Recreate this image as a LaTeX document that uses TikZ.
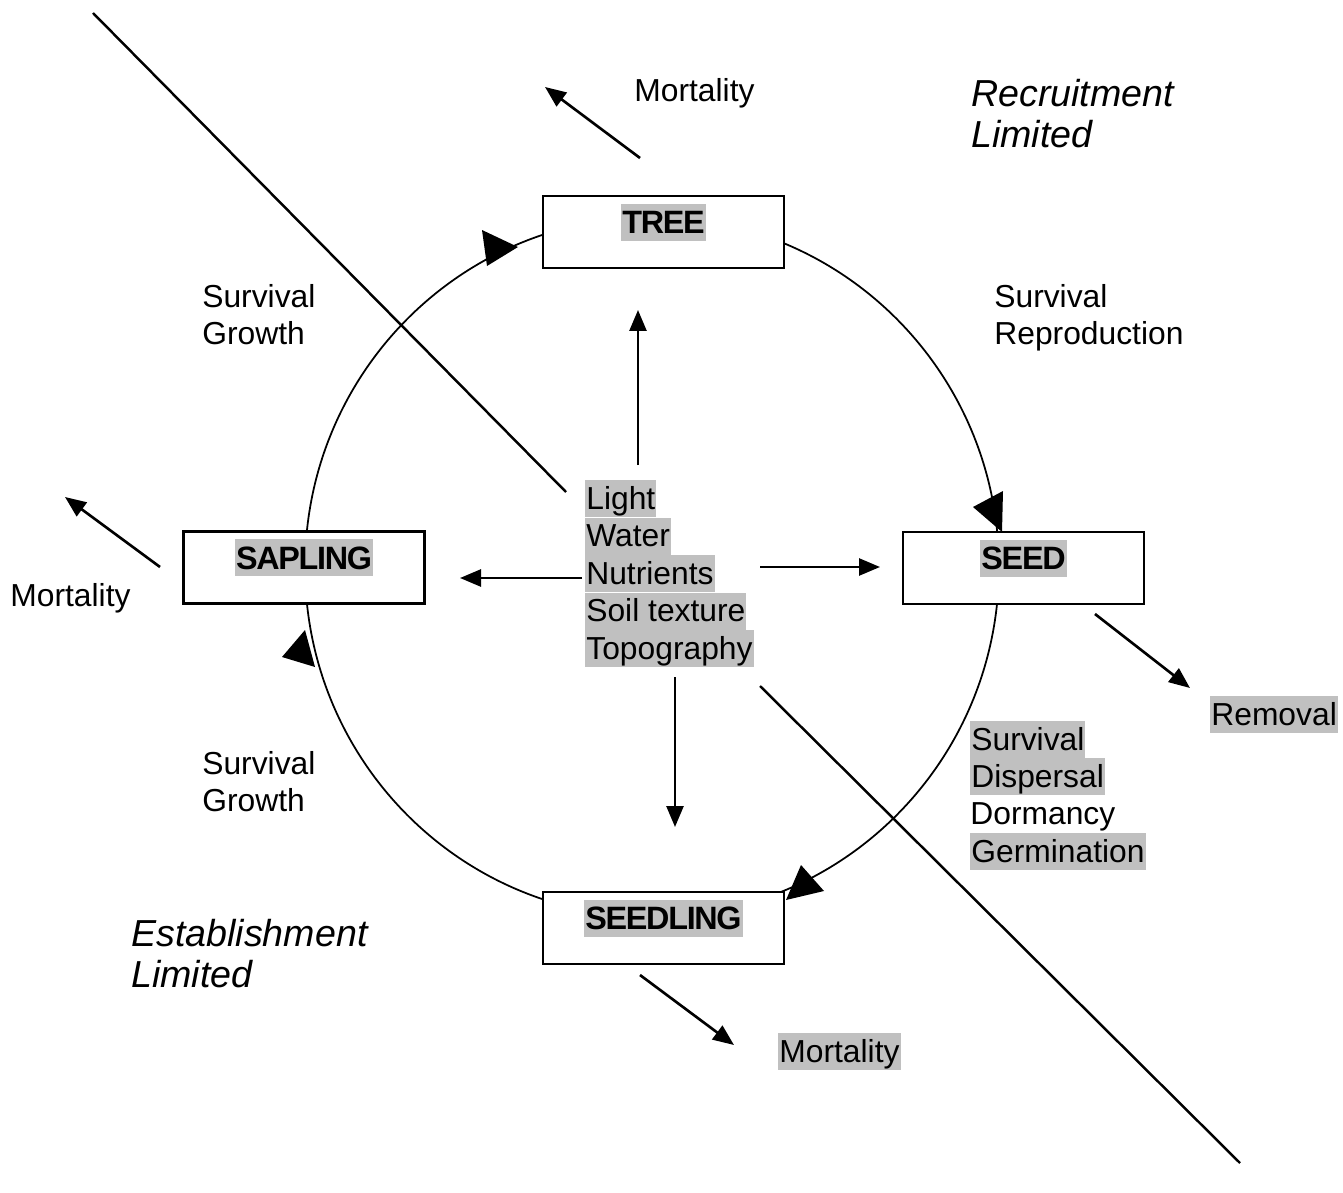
\documentclass[tikz,border=0pt]{standalone}
\usepackage{fontspec}
\setmainfont{Liberation Sans}
\newfontfamily\condbold[LetterSpace=-4]{Liberation Sans}
\usetikzlibrary{arrows.meta,calc}
\definecolor{hl}{RGB}{192,192,192}
\begin{document}
\begin{tikzpicture}[x=0.02cm,y=-0.02cm,
  txt/.style={inner sep=0pt, anchor=base west, font=\fontsize{18.1}{21}\selectfont},
  hltxt/.style={txt, fill=hl, inner xsep=0.02cm, text height=0.58cm, text depth=0.16cm},
  ital/.style={inner sep=0pt, anchor=base west, font=\fontsize{21.4}{24}\selectfont\itshape},
  stagebox/.style={draw, line width=1.3pt, fill=white, minimum width=4.82cm, minimum height=1.44cm, inner sep=0pt},
  stagelbl/.style={fill=hl, inner xsep=0.02cm, inner ysep=0pt, text height=0.6cm, text depth=0.14cm, anchor=base, font=\condbold\bfseries\fontsize{18.4}{21}\selectfont},
  arr/.style={line width=1.5pt, -{Triangle[length=0.42cm,width=0.34cm]}},
  diag/.style={line width=1.4pt},
  cyc/.style={line width=1pt}
]
\useasboundingbox (0,0) rectangle (1343,1193);

% diagonal lines
\coordinate (d1a) at (93,13);
\coordinate (d1b) at (566,492);
\coordinate (d2a) at (760,686);
\coordinate (d2b) at (1240,1163);
\draw[diag] (d1a) -- (d1b);
\draw[diag] (d2a) -- (d2b);

% life cycle
\draw[cyc] (652,567) ellipse [x radius=6.94cm, y radius=7cm];

% stage boxes
\node[stagebox] (tree) at (663.5,232) {};
\node[stagebox] (seed) at (1023.5,568) {};
\node[stagebox] (sapling) at (304,567.5) {};
\node[stagebox] (seedling) at (663.5,928) {};
\node[stagelbl] (treel) at ($(tree.north)+(0,39)$) {TREE};
\node[stagelbl] (seedl) at ($(seed.north)+(0,39)$) {SEED};
\node[stagelbl] (saplingl) at ($(sapling.north)+(0,39)$) {SAPLING};
\node[stagelbl] (seedlingl) at ($(seedling.north)+(0,39)$) {SEEDLING};

% arrowheads on the cycle
\fill (482,230) -- (487,266) -- (518,247) -- cycle;
\fill (973,507) -- (1003,491) -- (1002,532) -- cycle;
\fill (801,865) -- (824,891) -- (786,900) -- cycle;
\fill (282,657) -- (305,630) -- (315,667) -- cycle;

% texts
\node[txt] (mortT) at (634,102) {Mortality};
\node[ital] (recr1) at (971,107) {Recruitment};
\node[ital] (recr2) at (971,148) {Limited};
\node[txt] (survR1) at (994,307) {Survival};
\node[txt] (survR2) at (994,344) {Reproduction};
\node[txt] (survTL1) at (202,307) {Survival};
\node[txt] (survTL2) at (202,344) {Growth};
\node[txt] (mortL) at (10,606) {Mortality};
\node[txt] (survBL1) at (202,774) {Survival};
\node[txt] (survBL2) at (202,811) {Growth};
\node[ital] (estab1) at (131,946) {Establishment};
\node[ital] (estab2) at (131,987) {Limited};
\node[hltxt] (mortB) at (778,1062) {Mortality};
\node[hltxt] (removal) at (1210,725) {Removal};
\node[hltxt] (sf1) at (970,750) {Survival};
\node[hltxt] (sf2) at (970,787) {Dispersal};
\node[txt] (sf3) at (970,824) {Dormancy};
\node[hltxt] (sf4) at (970,862) {Germination};
\node[hltxt] (env1) at (585,509) {Light};
\node[hltxt] (env2) at (585,546.5) {Water};
\node[hltxt] (env3) at (585,584) {Nutrients};
\node[hltxt] (env4) at (585,621.5) {Soil texture};
\node[hltxt] (env5) at (585,659) {Topography};

% arrows
\coordinate (mTa) at (640,158);
\coordinate (mTb) at (545,87);
\coordinate (mLa) at (160,567);
\coordinate (mLb) at (65,497);
\coordinate (rma) at (1095,614);
\coordinate (rmb) at (1190,688);
\coordinate (mBa) at (640,975);
\coordinate (mBb) at (734,1045);
\coordinate (cu1) at (638,465);
\coordinate (cu2) at (638,310);
\coordinate (cl1) at (582,578);
\coordinate (cl2) at (460,578);
\coordinate (cr1) at (760,567);
\coordinate (cr2) at (880,567);
\coordinate (cd1) at (675,677);
\coordinate (cd2) at (675,827);
\draw[arr] (mTa) -- (mTb);
\draw[arr] (mLa) -- (mLb);
\draw[arr] (rma) -- (rmb);
\draw[arr] (mBa) -- (mBb);
\draw[arr] (cu1) -- (cu2);
\draw[arr] (cl1) -- (cl2);
\draw[arr] (cr1) -- (cr2);
\draw[arr] (cd1) -- (cd2);
\end{tikzpicture}
\end{document}
